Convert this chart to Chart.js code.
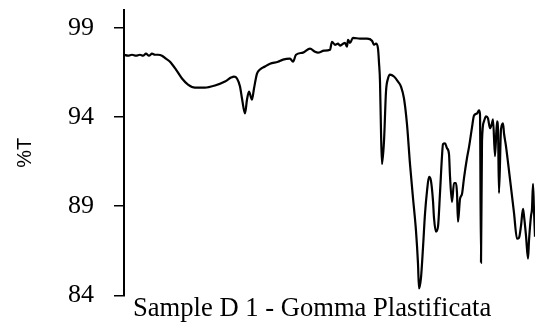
<!DOCTYPE html>
<html>
<head>
<meta charset="utf-8">
<title>Sample D 1 - Gomma Plastificata</title>
<script src="https://cdn.jsdelivr.net/npm/chart.js@4/dist/chart.umd.min.js"></script>
<style>
  html, body { margin: 0; padding: 0; background: #ffffff; }
  #wrap { width: 538px; height: 325px; }
</style>
</head>
<body>
<div id="wrap"><canvas id="spectrum"></canvas></div>
<script>
// scan position (left to right) and %T
const scanPos = [
  0, 4, 8, 12, 16, 19, 22, 25, 28, 31, 34, 38, 42, 46, 52, 58, 64, 71, 81, 91,
  101, 107, 110, 113, 116, 118, 121, 123, 125, 127, 128, 130, 133, 136, 141, 146, 154, 159, 166, 169,
  172, 179, 186, 191, 194, 200, 206, 208, 211, 214, 216, 219, 221, 223, 224, 226, 229, 236, 243, 248,
  250, 252, 254, 255, 256, 257, 258, 260, 262, 264, 266, 270, 274, 277, 280, 283, 286, 289, 292, 294,
  295, 297, 299, 301, 303, 305, 307, 309, 310, 312, 314, 316, 318, 319, 321, 323, 325, 326, 328, 330,
  332, 333, 334, 336, 338, 340, 343, 345, 348, 350, 353, 355, 356, 357, 358, 360, 362, 364, 366, 368,
  369, 371, 373, 374, 375, 377, 379, 380, 382, 386, 390, 393, 395, 397, 399, 400, 402, 404, 405, 407,
  408, 409, 410, 411
];
const transmittance = [
  97.49, 97.44, 97.49, 97.44, 97.49, 97.44, 97.55, 97.44, 97.55, 97.49, 97.49, 97.44, 97.27, 97.10, 96.66, 96.16, 95.82, 95.65, 95.65, 95.77,
  95.99, 96.21, 96.27, 96.16, 95.71, 95.04, 94.20, 94.98, 95.43, 95.10, 94.98, 95.60, 96.43, 96.66, 96.83, 96.99, 97.10, 97.22, 97.27, 97.10,
  97.49, 97.61, 97.83, 97.66, 97.61, 97.72, 97.77, 98.22, 98.05, 98.11, 98.00, 98.11, 98.16, 97.94, 98.33, 98.16, 98.44, 98.39, 98.39, 98.28,
  98.05, 98.11, 97.83, 97.05, 95.99, 93.20, 91.36, 92.64, 95.43, 96.16, 96.38, 96.27, 95.99, 95.71, 95.04, 93.59, 91.36, 89.46, 87.62, 85.78,
  84.39, 85.00, 86.68, 88.57, 89.85, 90.64, 90.41, 89.30, 88.35, 87.57, 87.85, 89.74, 91.81, 92.48, 92.53, 92.25, 91.92, 90.69, 89.24, 90.30,
  90.30, 89.74, 88.13, 89.41, 89.69, 90.58, 91.70, 92.31, 93.42, 94.09, 94.20, 94.37, 94.15, 85.84, 92.64, 93.76, 94.04, 93.93, 93.37, 93.65,
  93.87, 91.81, 93.76, 93.36, 89.74, 93.31, 93.65, 93.09, 92.36, 90.52, 88.63, 87.18, 87.23, 87.90, 88.85, 88.46, 87.35, 86.06, 87.07, 88.46,
  88.85, 90.25, 88.74, 87.29
];
const yTicks = [84, 89, 94, 99];
const yLabel = "%T";
const sampleName = "Sample D 1 - Gomma Plastificata";

const points = scanPos.map((x, i) => ({ x: x, y: transmittance[i] }));

// the caption sits a little right of the axis in the original;
// shift the x scale only while the scales draw, put it back before the line
const captionShift = {
  id: "captionShift",
  beforeDraw(chart) {
    chart.scales.x.left += 9;
  },
  beforeDatasetsDraw(chart) {
    chart.scales.x.left -= 9;
  }
};

const ctx = document.getElementById("spectrum").getContext("2d");

new Chart(ctx, {
  type: "line",
  data: {
    datasets: [
      {
        data: points,
        borderColor: "#000000",
        borderWidth: 2.2,
        pointRadius: 0,
        cubicInterpolationMode: "monotone",
        fill: false
      }
    ]
  },
  options: {
    responsive: true,
    maintainAspectRatio: false,
    animation: false,
    layout: {
      padding: { top: 10, right: 3, bottom: 3, left: 0 }
    },
    plugins: {
      legend: { display: false },
      tooltip: { enabled: false }
    },
    scales: {
      x: {
        type: "linear",
        min: 0,
        max: 411,
        grid: { display: false, drawTicks: false },
        border: { display: false },
        ticks: { display: false },
        title: {
          display: true,
          text: sampleName,
          align: "start",
          color: "#000000",
          padding: { top: 0, bottom: 0 },
          font: { family: "'Liberation Serif', 'Times New Roman', serif", size: 26.6, lineHeight: 1 }
        }
      },
      y: {
        min: 84,
        max: 100,
        afterBuildTicks: scale => {
          scale.ticks = yTicks.map(v => ({ value: v }));
        },
        afterFit: scale => {
          scale.width = 124;
          scale.paddingTop = 0;
          scale.paddingBottom = 0;
        },
        border: { display: true, color: "#000000", width: 2 },
        grid: {
          drawOnChartArea: false,
          drawTicks: true,
          tickLength: 10,
          color: "#000000",
          lineWidth: 1.5
        },
        ticks: {
          color: "#000000",
          padding: 20,
          font: { family: "'Liberation Serif', 'Times New Roman', serif", size: 26 }
        },
        title: {
          display: true,
          text: yLabel,
          color: "#000000",
          padding: { top: 13, bottom: 0 },
          font: { family: "'Liberation Sans', Arial, sans-serif", size: 20 }
        }
      }
    }
  },
  plugins: [captionShift]
});
</script>
</body>
</html>
